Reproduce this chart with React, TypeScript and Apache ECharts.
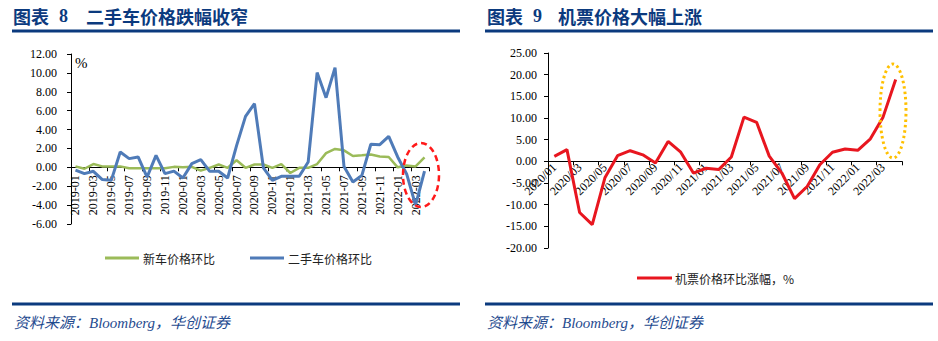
import React, { useEffect, useRef } from "react";
import * as echarts from "echarts";

const carMonths = [
  "2019-01", "2019-02", "2019-03", "2019-04", "2019-05", "2019-06", "2019-07", "2019-08", "2019-09", "2019-10", "2019-11", "2019-12",
  "2020-01", "2020-02", "2020-03", "2020-04", "2020-05", "2020-06", "2020-07", "2020-08", "2020-09", "2020-10", "2020-11", "2020-12",
  "2021-01", "2021-02", "2021-03", "2021-04", "2021-05", "2021-06", "2021-07", "2021-08", "2021-09", "2021-10", "2021-11", "2021-12",
  "2022-01", "2022-02", "2022-03", "2022-04",
];
const newCarMoM = [
  0.1, -0.15, 0.35, 0.1, 0.1, 0.1, -0.1, -0.1, -0.1, -0.1, -0.1, 0.05,
  0.0, 0.05, -0.35, -0.05, 0.3, -0.05, 0.75, -0.05, 0.3, 0.3, -0.05, 0.35,
  -0.6, -0.05, -0.05, 0.35, 1.5, 1.95, 1.8, 1.2, 1.27, 1.35, 1.15, 1.1,
  0.0, 0.2, 0.1, 1.05,
];
const usedCarMoM = [
  -0.3, -0.67, -0.42, -1.3, -1.38, 1.62, 0.92, 1.1, -1.03, 1.27, -0.67, -0.4,
  -1.13, 0.39, 0.81, -0.42, -0.42, -1.13, 2.3, 5.4, 6.75, -0.07, -1.38, -0.95,
  -0.95, -0.95, 0.56, 10.03, 7.38, 10.56, 0.1, -1.56, -0.85, 2.44, 2.4, 3.28,
  1.1, -0.7, -4.0, -0.4,
];
const airMonths = [
  "2020/01", "2020/02", "2020/03", "2020/04", "2020/05", "2020/06", "2020/07", "2020/08", "2020/09", "2020/10", "2020/11", "2020/12",
  "2021/01", "2021/02", "2021/03", "2021/04", "2021/05", "2021/06", "2021/07", "2021/08", "2021/09", "2021/10", "2021/11", "2021/12",
  "2022/01", "2022/02", "2022/03", "2022/04",
];
const airfareMoM = [
  1.15, 2.7, -11.8, -14.6, -3.8, 1.3, 2.45, 1.5, -0.4, 4.6, 2.1, -2.7,
  -1.6, -1.9, 1.0, 10.2, 9.0, 1.2, -2.7, -8.6, -5.8, -0.8, 2.1, 2.85,
  2.55, 5.2, 10.2, 18.9,
];

const leftTitleNo = "图表";
const leftTitleNum = "8";
const leftTitle = "二手车价格跌幅收窄";
const rightTitleNum = "9";
const rightTitle = "机票价格大幅上涨";
const sourceNote = "资料来源：Bloomberg，华创证券";
const newCarName = "新车价格环比";
const usedCarName = "二手车价格环比";
const airName = "机票价格环比涨幅，%";

export default function App() {
  const ref = useRef<HTMLDivElement>(null);
  useEffect(() => {
    if (!ref.current) return;
    const chart = echarts.init(ref.current, null, { renderer: "svg" });
    const serif = "'Liberation Serif', 'Times New Roman', serif";
    const mixed = "'Liberation Serif', 'Noto Sans CJK SC', serif";
    const cjk = "'Noto Sans CJK SC', sans-serif";
    const navy = "#0b3a7e";
    const noteColor = "#1f4b8f";
    const axisColor = "#000";
    const green = "#9bbb59";
    const blue = "#4f7bb8";
    const red = "#e8161f";

    // data axes (hidden) — carry the series
    const xData = (data: string[], gridIndex: number) => ({
      gridIndex,
      type: "category",
      data,
      boundaryGap: true,
      show: false,
    });
    // visible axes sitting on the zero line (bottom of a helper grid)
    const xVisible = (data: string[], gridIndex: number, rotate: number, margin: number) => ({
      gridIndex,
      type: "category",
      data,
      boundaryGap: true,
      position: "bottom",
      axisLine: { show: true, onZero: false, lineStyle: { color: axisColor, width: 1 } },
      axisTick: { show: true, interval: 1, length: 4, lineStyle: { color: axisColor } },
      axisLabel: {
        interval: 1,
        rotate,
        margin,
        fontSize: 12,
        fontFamily: serif,
        color: "#000",
      },
      splitLine: { show: false },
    });
    const yCommon = (gridIndex: number, min: number, max: number, interval: number, margin: number) => ({
      gridIndex,
      type: "value",
      min,
      max,
      interval,
      axisLine: { show: true, lineStyle: { color: axisColor, width: 1 } },
      axisTick: { show: true, length: 4, lineStyle: { color: axisColor } },
      splitLine: { show: false },
      axisLabel: {
        margin,
        fontSize: 12,
        fontFamily: serif,
        color: "#000",
        formatter: (v: number) => v.toFixed(2),
      },
    });
    const yHelper = (gridIndex: number) => ({
      gridIndex,
      type: "value",
      min: 0,
      max: 1,
      show: false,
    });

    const titleText = (x: number, text: string, font: string) => ({
      type: "text",
      x,
      y: 16,
      style: {
        text,
        fontSize: 18,
        fontWeight: "bold",
        fontFamily: font,
        fill: navy,
        verticalAlign: "middle",
      },
    });
    const hLine = (x1: number, x2: number, y: number) => ({
      type: "line",
      shape: { x1, y1: y, x2, y2: y },
      style: { stroke: navy, lineWidth: 3 },
    });
    const note = (x: number) => ({
      type: "text",
      x,
      y: 323,
      style: {
        text: sourceNote,
        fontSize: 15,
        fontStyle: "italic",
        fontFamily: mixed,
        fill: noteColor,
        verticalAlign: "middle",
      },
    });

    chart.setOption({
      animation: false,
      backgroundColor: "#fff",
      grid: [
        { left: 71, top: 54, width: 358, height: 170 },
        { left: 548, top: 53, width: 354, height: 195 },
        { left: 71, top: 54, width: 358, height: 113.3 },
        { left: 548, top: 53, width: 354, height: 108.3 },
      ],
      xAxis: [
        xData(carMonths, 0),
        xData(airMonths, 1),
        xVisible(carMonths, 2, 90, 8),
        xVisible(airMonths, 3, 45, 4),
      ],
      yAxis: [
        yCommon(0, -6, 12, 2, 14),
        yCommon(1, -20, 25, 5, 11),
        yHelper(2),
        yHelper(3),
      ],
      legend: [
        {
          left: 100,
          top: 247,
          icon: "rect",
          itemWidth: 34,
          itemHeight: 3,
          itemGap: 35,
          data: [newCarName, usedCarName],
          textStyle: { fontSize: 12, fontFamily: cjk, color: "#222", padding: [0, 0, 0, -1] },
        },
        {
          left: 632,
          top: 267,
          icon: "rect",
          itemWidth: 35,
          itemHeight: 3,
          data: [airName],
          textStyle: { fontSize: 12, fontFamily: cjk, color: "#222", padding: [0, 0, 0, -2] },
        },
      ],
      series: [
        {
          type: "line",
          name: newCarName,
          xAxisIndex: 0,
          yAxisIndex: 0,
          data: newCarMoM,
          symbol: "none",
          lineStyle: { color: green, width: 2.5 },
          itemStyle: { color: green },
        },
        {
          type: "line",
          name: usedCarName,
          xAxisIndex: 0,
          yAxisIndex: 0,
          data: usedCarMoM,
          symbol: "none",
          lineStyle: { color: blue, width: 3 },
          itemStyle: { color: blue },
        },
        {
          type: "line",
          name: airName,
          xAxisIndex: 1,
          yAxisIndex: 1,
          data: airfareMoM,
          symbol: "none",
          lineStyle: { color: red, width: 3 },
          itemStyle: { color: red },
        },
      ],
      graphic: [
        titleText(13, leftTitleNo, cjk),
        titleText(59, leftTitleNum, serif),
        titleText(86, leftTitle, cjk),
        titleText(487, leftTitleNo, cjk),
        titleText(533, rightTitleNum, serif),
        titleText(558, rightTitle, cjk),
        hLine(12, 460, 31),
        hLine(485, 933, 31),
        hLine(12, 460, 304),
        hLine(485, 933, 304),
        note(14),
        note(487),
        {
          type: "text",
          x: 75,
          y: 63,
          style: { text: "%", fontSize: 15, fontFamily: serif, fill: "#000", verticalAlign: "middle" },
        },
        {
          type: "ellipse",
          z: 100,
          shape: { cx: 421, cy: 175, rx: 18, ry: 32 },
          style: { fill: "none", stroke: "#ff1a1a", lineWidth: 2.5, lineDash: [6, 4] },
        },
        {
          type: "ellipse",
          z: 100,
          shape: { cx: 893, cy: 111, rx: 13, ry: 47 },
          style: { fill: "none", stroke: "#ffc000", lineWidth: 3, lineDash: [2.5, 3] },
        },
      ],
    });
    return () => chart.dispose();
  }, []);
  return (
    <div
      ref={ref}
      style={{ position: "fixed", left: 0, top: 0, width: 938, height: 341, background: "#fff" }}
    />
  );
}
